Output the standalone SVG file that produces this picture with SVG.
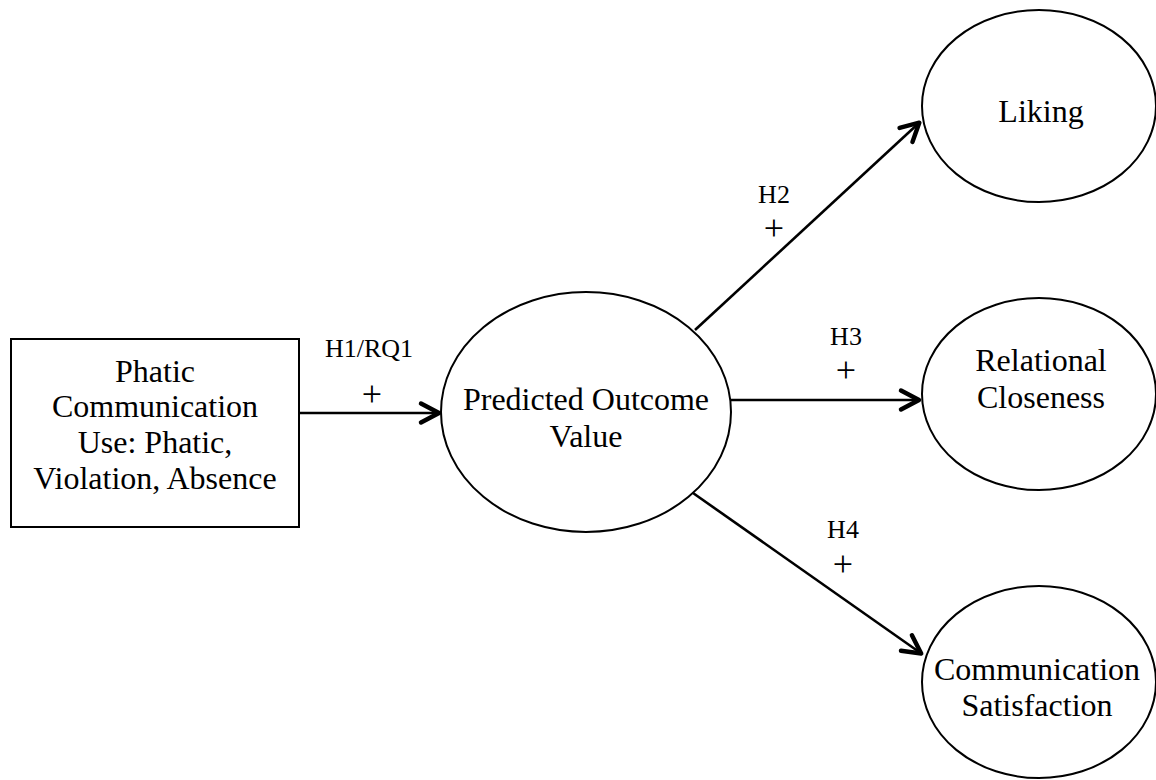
<svg xmlns="http://www.w3.org/2000/svg" width="1156" height="780" viewBox="0 0 1156 780">
<style>
.node{fill:#fff;stroke:#000;stroke-width:2}
.t{font-family:"Liberation Serif","Times New Roman",serif;font-size:32px;fill:#000;text-anchor:middle}
.lbl{font-family:"Liberation Serif","Times New Roman",serif;font-size:26px;fill:#000;text-anchor:middle}
.plus{font-family:"Liberation Serif","Times New Roman",serif;font-size:36px;fill:#000;text-anchor:middle}
.edge{fill:none;stroke:#000;stroke-width:2.6;marker-end:url(#arr)}
</style>
<defs>
<marker id="arr" markerUnits="userSpaceOnUse" markerWidth="30" markerHeight="30" viewBox="-25 -15 30 30" refX="0" refY="0" orient="auto" overflow="visible">
<path d="M-19,-9.5 L-1,0 L-19,9.5" fill="none" stroke="#000" stroke-width="4.5" stroke-linecap="round" stroke-linejoin="round"/>
</marker>
</defs>
<rect width="1156" height="780" fill="#fff"/>
<g id="connectors">
<line class="edge" x1="299" y1="413" x2="440" y2="413"/>
<line class="edge" x1="695" y1="330" x2="920" y2="122"/>
<line class="edge" x1="731" y1="400" x2="920" y2="400"/>
<line class="edge" x1="693" y1="493" x2="922" y2="654"/>
<text class="lbl" x="369" y="357">H1/RQ1</text>
<text class="plus" x="372" y="406">+</text>
<text class="lbl" x="774" y="203">H2</text>
<text class="plus" x="774" y="240">+</text>
<text class="lbl" x="846" y="345">H3</text>
<text class="plus" x="846" y="382">+</text>
<text class="lbl" x="843" y="538">H4</text>
<text class="plus" x="843" y="576">+</text>
</g>
<g id="phatic">
<rect class="node" x="11" y="339" width="288" height="188"/>
<text class="t" x="155" y="382">Phatic</text>
<text class="t" x="155" y="417">Communication</text>
<text class="t" x="155" y="453">Use: Phatic,</text>
<text class="t" x="155" y="489">Violation, Absence</text>
</g>
<g id="pov">
<ellipse class="node" cx="586" cy="412" rx="145" ry="120"/>
<text class="t" x="586" y="410">Predicted Outcome</text>
<text class="t" x="586" y="447">Value</text>
</g>
<g id="liking">
<ellipse class="node" cx="1039" cy="106" rx="117" ry="96"/>
<text class="t" x="1041" y="122">Liking</text>
</g>
<g id="closeness">
<ellipse class="node" cx="1039" cy="394" rx="117" ry="96"/>
<text class="t" x="1041" y="371">Relational</text>
<text class="t" x="1041" y="408">Closeness</text>
</g>
<g id="satisfaction">
<ellipse class="node" cx="1039" cy="682" rx="117" ry="96"/>
<text class="t" x="1037" y="680">Communication</text>
<text class="t" x="1037" y="716">Satisfaction</text>
</g>
</svg>
